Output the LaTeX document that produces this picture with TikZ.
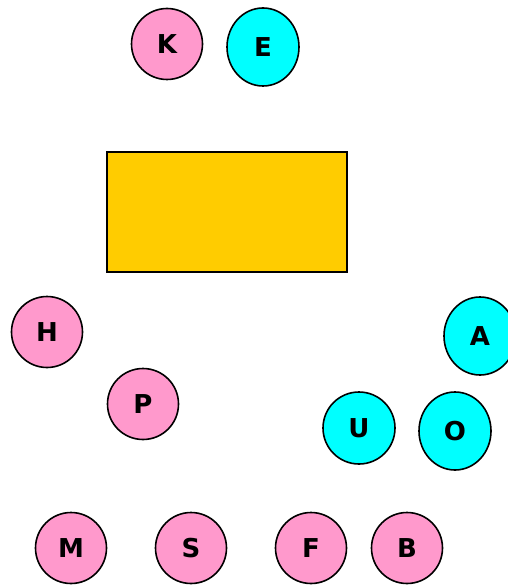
\documentclass[tikz,border=0pt]{standalone}
\usepackage{fontspec}
\setmainfont{DejaVu Sans}
\usetikzlibrary{shapes.geometric}
\definecolor{seatpink}{HTML}{FF99CC}
\definecolor{seatcyan}{HTML}{00FFFF}
\definecolor{tablegold}{HTML}{FFCC00}
\tikzset{
	seat/.style={ellipse,draw=black,line width=1.6pt,inner sep=0pt,
		font=\fontsize{26}{26}\selectfont\bfseries},
	pinkseat/.style={seat,fill=seatpink,minimum width=71pt,minimum height=71pt},
	cyanseat/.style={seat,fill=seatcyan,minimum width=72pt,minimum height=78pt},
	cyanround/.style={seat,fill=seatcyan,minimum width=72pt,minimum height=72pt}
}
\begin{document}
\begin{tikzpicture}[x=1pt,y=-1pt]
		\useasboundingbox (0,0) rectangle (507,585);
		% table
		\draw[line width=1.6pt,fill=tablegold] (107,152) rectangle (347,272);
		
		% pink seats
		\foreach \name/\xpos/\ypos in {
			K/167/44,H/47/332,P/143/404,
			M/71/548,S/191/548,F/311/548,B/407/548}
		\node[pinkseat] (\name) at (\xpos,\ypos) {\name};
		
		% cyan seats
		\foreach \name/\xpos/\ypos in {E/263/47,A/480/336,O/455/431}
		\node[cyanseat] (\name) at (\xpos,\ypos) {\name};
		\node[cyanround] (U) at (359,428) {U};
	\end{tikzpicture}
\end{document}
